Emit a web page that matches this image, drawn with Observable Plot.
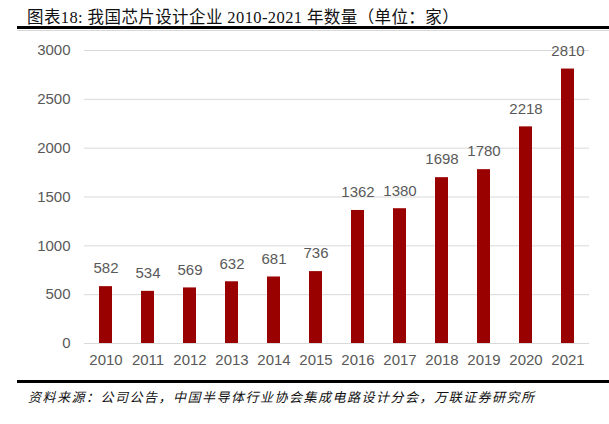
<!DOCTYPE html>
<html>
<head>
<meta charset="utf-8">
<script src="https://cdn.jsdelivr.net/npm/d3@7"></script>
<script src="https://cdn.jsdelivr.net/npm/@observablehq/plot@0.6"></script>
<style>
  html, body { margin: 0; padding: 0; background: #fff; }
  #wrap { position: relative; width: 609px; height: 424px; overflow: hidden; }
  #title { position: absolute; left: 27px; top: 4px; font-family: "Liberation Serif", "Noto Sans CJK SC", serif; font-size: 16.5px; letter-spacing: 0.4px; color: #111; white-space: nowrap; }
  #line1 { position: absolute; left: 17px; right: 0; top: 26px; height: 2.5px; background: #000; }
  #line1b { position: absolute; left: 17px; right: 0; top: 30px; height: 1px; background: #d9d9d9; }
  #chart { position: absolute; left: 0; top: 33px; }
  #line2 { position: absolute; left: 17px; right: 0; top: 380px; height: 2.5px; background: #000; }
  #caption { position: absolute; left: 28px; top: 387px; font-family: "Noto Sans CJK SC", sans-serif; font-style: italic; font-size: 13px; letter-spacing: 1.5px; color: #111; white-space: nowrap; }
</style>
</head>
<body>
<div id="wrap">
  <div id="title">图表18: 我国芯片设计企业 2010-2021 年数量（单位：家）</div>
  <div id="line1"></div>
  <div id="line1b"></div>
  <div id="chart"></div>
  <div id="line2"></div>
  <div id="caption">资料来源：公司公告，中国半导体行业协会集成电路设计分会，万联证券研究所</div>
</div>
<script>
const years = ["2010","2011","2012","2013","2014","2015","2016","2017","2018","2019","2020","2021"];
const counts = [582, 534, 569, 632, 681, 736, 1362, 1380, 1698, 1780, 2218, 2810];
const yTicks = [0, 500, 1000, 1500, 2000, 2500, 3000];

const data = years.map((y, i) => ({year: y, value: counts[i]}));

const chart = Plot.plot({
  width: 609,
  height: 347,
  marginLeft: 84,
  marginRight: 20,
  marginTop: 17,
  marginBottom: 37,
  style: {fontFamily: "'Liberation Sans', Arial, sans-serif", fontSize: "15px", color: "#595959", background: "#fff", overflow: "visible"},
  x: {domain: years, paddingInner: 0.69, paddingOuter: 0.345, label: null},
  y: {domain: [0, 3000], label: null},
  marks: [
    Plot.gridY(yTicks, {stroke: "#d9d9d9", strokeOpacity: 1, strokeWidth: 1}),
    Plot.barY(data, {x: "year", y: "value", fill: "#990000"}),
    Plot.text(data, {x: "year", y: "value", text: d => String(d.value), dy: -18, fill: "#595959", fontSize: 15}),
    Plot.axisX({tickSize: 0, tickPadding: 11, fontSize: 15, fill: "#595959"}),
    Plot.axisY({ticks: yTicks, tickFormat: d => String(d), tickSize: 0, tickPadding: 14, fontSize: 15, fill: "#595959"})
  ]
});
document.getElementById("chart").appendChild(chart);
</script>
</body>
</html>
